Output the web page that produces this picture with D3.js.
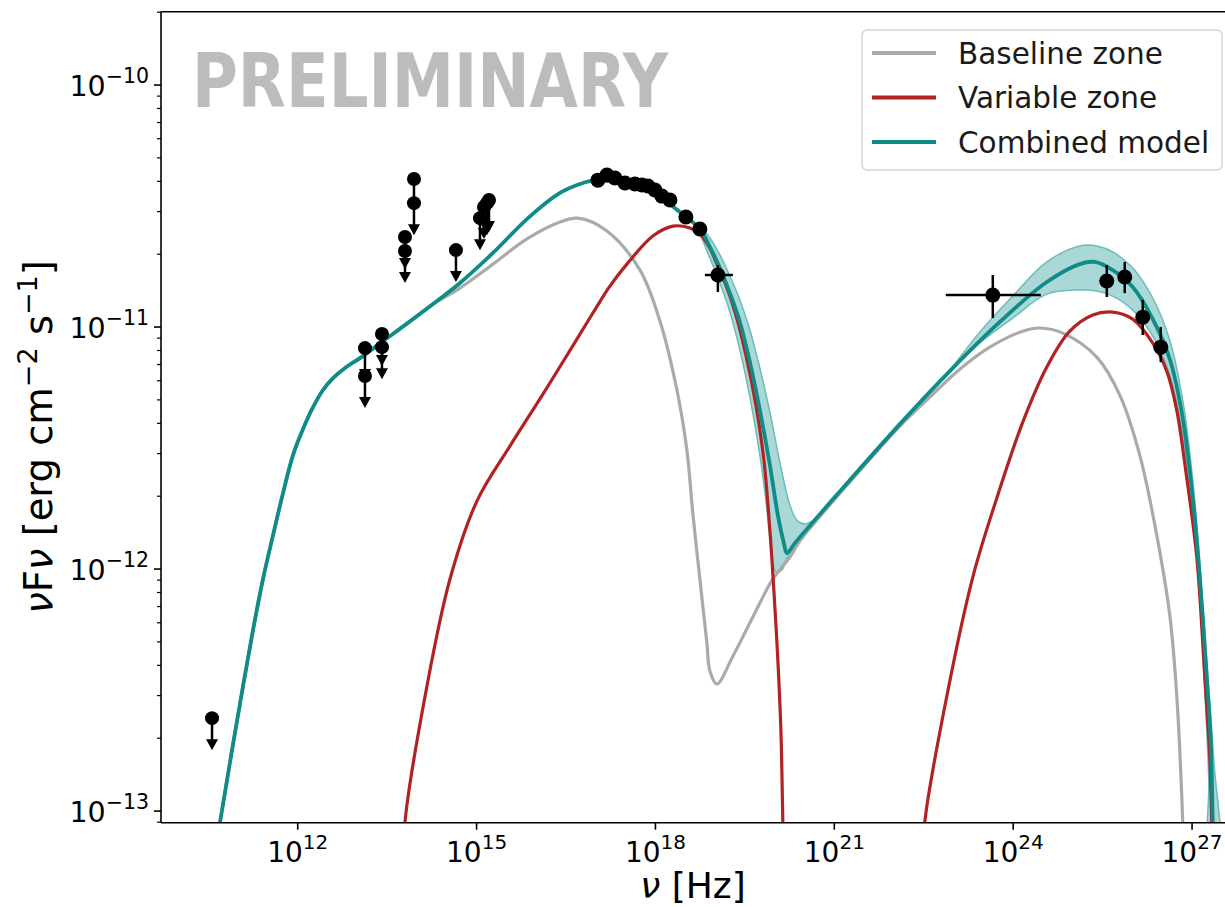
<!DOCTYPE html>
<html>
<head>
<meta charset="utf-8">
<script src="https://cdn.jsdelivr.net/npm/d3@7"></script>
<style>
body { margin: 0; background: #fff; }
text { font-family: "DejaVu Sans", sans-serif; }
</style>
</head>
<body>
<svg width="1225" height="907"></svg>
<script>
// all values as [log10(nu / Hz), log10(nuFnu / erg cm^-2 s^-1)]
var combinedModel = [[10.613,-13.161],[10.697,-13.046],[10.898,-12.748],[11.083,-12.483],[11.250,-12.252],[11.418,-12.041],[11.586,-11.860],[11.754,-11.686],[11.921,-11.529],[12.089,-11.421],[12.257,-11.331],[12.424,-11.260],[12.592,-11.211],[12.793,-11.169],[13.095,-11.120],[13.430,-11.058],[13.799,-10.992],[14.269,-10.905],[14.721,-10.818],[15.275,-10.694],[15.845,-10.554],[16.398,-10.446],[16.733,-10.409],[16.985,-10.393],[17.236,-10.397],[17.572,-10.409],[18.075,-10.463],[18.410,-10.525],[18.745,-10.595],[18.913,-10.669],[19.081,-10.756],[19.248,-10.860],[19.416,-10.979],[19.584,-11.145],[19.751,-11.343],[19.919,-11.570],[20.053,-11.777],[20.154,-11.893],[20.204,-11.934],[20.338,-11.893],[20.422,-11.868],[21.261,-11.632],[22.099,-11.401],[22.937,-11.182],[23.776,-10.979],[24.564,-10.814],[25.117,-10.740],[25.368,-10.731],[25.670,-10.765],[26.005,-10.835],[26.341,-10.967],[26.626,-11.132],[26.844,-11.376],[27.012,-11.707],[27.129,-12.033],[27.246,-12.442],[27.313,-12.707],[27.347,-13.046],[27.364,-13.244]];

var baselineZone = [[10.613,-13.161],[10.697,-13.046],[10.898,-12.748],[11.083,-12.483],[11.250,-12.252],[11.418,-12.041],[11.586,-11.860],[11.754,-11.686],[11.921,-11.529],[12.089,-11.421],[12.257,-11.331],[12.424,-11.260],[12.592,-11.211],[12.793,-11.169],[13.095,-11.120],[13.430,-11.058],[13.799,-10.992],[14.269,-10.905],[14.721,-10.839],[15.275,-10.740],[15.845,-10.636],[16.398,-10.566],[16.700,-10.550],[17.186,-10.603],[17.739,-10.764],[18.075,-10.975],[18.360,-11.260],[18.527,-11.508],[18.628,-11.773],[18.745,-12.041],[18.863,-12.306],[18.913,-12.421],[19.030,-12.475],[19.299,-12.360],[19.634,-12.198],[19.969,-12.041],[20.255,-11.950],[20.422,-11.884],[21.261,-11.640],[22.099,-11.409],[22.602,-11.289],[23.105,-11.174],[23.608,-11.083],[24.161,-11.017],[24.446,-11.004],[24.832,-11.025],[25.402,-11.124],[25.788,-11.281],[26.123,-11.529],[26.408,-11.860],[26.626,-12.190],[26.743,-12.521],[26.844,-13.046],[26.861,-13.203]];

var variableZoneSync = [[13.782,-13.203],[13.799,-13.046],[14.168,-12.483],[14.554,-12.041],[15.006,-11.719],[15.560,-11.492],[16.113,-11.277],[16.683,-11.050],[16.951,-10.942],[17.236,-10.831],[17.521,-10.740],[17.957,-10.624],[18.293,-10.583],[18.578,-10.591],[18.745,-10.616],[18.913,-10.674],[19.014,-10.731],[19.181,-10.826],[19.349,-10.950],[19.517,-11.116],[19.684,-11.322],[19.819,-11.550],[19.919,-11.839],[19.986,-12.087],[20.053,-12.376],[20.104,-12.665],[20.137,-13.046],[20.154,-13.203]];

var variableZoneIC = [[22.501,-13.203],[22.518,-13.046],[22.887,-12.525],[23.323,-12.033],[23.725,-11.707],[24.161,-11.393],[24.564,-11.165],[24.949,-11.017],[25.335,-10.950],[25.670,-10.938],[26.005,-10.967],[26.341,-11.066],[26.576,-11.182],[26.743,-11.343],[26.911,-11.624],[27.079,-11.950],[27.213,-12.442],[27.296,-12.773],[27.330,-13.046],[27.347,-13.203]];

// uncertainty band of the combined model
var bandXrayUpper = [[18.745,-10.583],[18.913,-10.632],[19.081,-10.702],[19.248,-10.789],[19.416,-10.888],[19.584,-11.012],[19.751,-11.169],[19.919,-11.351],[20.087,-11.558],[20.255,-11.736],[20.372,-11.798],[20.506,-11.814],[20.623,-11.802]];
var bandXrayLower = [[18.745,-10.612],[18.913,-10.715],[19.081,-10.818],[19.248,-10.938],[19.416,-11.095],[19.584,-11.289],[19.751,-11.529],[19.852,-11.715],[19.936,-11.901],[20.020,-12.012],[20.120,-12.004],[20.204,-11.955],[20.338,-11.905],[20.506,-11.843],[20.623,-11.802]];
var bandGammaUpper = [[22.937,-11.180],[23.440,-11.021],[23.993,-10.872],[24.564,-10.731],[25.117,-10.665],[25.402,-10.665],[25.670,-10.690],[26.005,-10.756],[26.341,-10.880],[26.626,-11.054],[26.844,-11.302],[27.012,-11.632],[27.129,-11.963],[27.246,-12.376],[27.364,-12.789],[27.448,-13.203]];
var bandGammaLower = [[22.937,-11.184],[23.440,-11.066],[23.993,-10.963],[24.564,-10.864],[25.117,-10.847],[25.402,-10.851],[25.670,-10.872],[26.005,-10.930],[26.341,-11.037],[26.626,-11.198],[26.844,-11.446],[27.012,-11.777],[27.129,-12.107],[27.213,-12.500],[27.280,-12.872],[27.296,-13.203]];

// data
var upperLimits = [[10.563,-12.616],[13.128,-11.087],[13.128,-11.202],[13.413,-11.029],[13.413,-11.083],[13.799,-10.628],[13.799,-10.686],[13.950,-10.388],[13.950,-10.488],[14.654,-10.682],[15.057,-10.550],[15.124,-10.504],[15.174,-10.488],[15.208,-10.475]];
var xrayPoints = [[17.035,-10.393],[17.186,-10.372],[17.320,-10.384],[17.488,-10.405],[17.656,-10.409],[17.773,-10.413],[17.874,-10.417],[17.991,-10.434],[18.108,-10.459],[18.243,-10.475],[18.511,-10.545],[18.745,-10.595]];
// [nu, F, nu low, nu high, F low, F high]
var errorPoints = [[19.047,-10.785,18.829,19.299,-10.855,-10.744],[23.658,-10.868,22.870,24.463,-10.963,-10.785],[25.570,-10.810,25.45,25.69,-10.876,-10.744],[25.871,-10.793,25.77,25.97,-10.860,-10.731],[26.173,-10.959,26.09,26.26,-11.033,-10.888],[26.475,-11.083,26.40,26.55,-11.145,-11.000]];

var xTickExp = [12, 15, 18, 21, 24, 27];
var yTickExp = [-13, -12, -11, -10];
var legendLabels = ["Baseline zone", "Variable zone", "Combined model"];

var teal = "#0f8b88", red = "#b22222", grey = "#aaaaaa";

var svg = d3.select("svg");
svg.append("rect").attr("width", 1225).attr("height", 907).attr("fill", "#fff");

// plot box (window.top is read only, so no "top" here)
var pLeft = 161, pTop = 11.7, pBottom = 822.7, pRight = 1232;
var x = d3.scaleLog().domain([Math.pow(10, 9.707), Math.pow(10, 27.67)]).range([pLeft, pRight]);
var y = d3.scaleLog().domain([Math.pow(10, -13.048), Math.pow(10, -9.697)]).range([pBottom, pTop]);

var px = function(d) { return x(Math.pow(10, d[0])); };
var py = function(d) { return y(Math.pow(10, d[1])); };

svg.append("clipPath").attr("id", "plot")
  .append("rect").attr("x", pLeft).attr("y", pTop).attr("width", pRight - pLeft).attr("height", pBottom - pTop);

// watermark
svg.append("text")
  .attr("x", 192).attr("y", 107)
  .attr("font-size", "74px").attr("font-weight", "bold")
  .attr("textLength", 476).attr("lengthAdjust", "spacingAndGlyphs")
  .attr("fill", "#bcbcbc")
  .text("PRELIMINARY");

var g = svg.append("g").attr("clip-path", "url(#plot)");
var line = d3.line().x(px).y(py).curve(d3.curveCatmullRom.alpha(0.5));

// bands
[[bandXrayUpper, bandXrayLower], [bandGammaUpper, bandGammaLower]].forEach(function(b) {
  g.append("path")
    .attr("d", line(b[0].concat(b[1].slice().reverse())) + "Z")
    .attr("fill", "#8ccbc9").attr("fill-opacity", 0.75)
    .attr("stroke", "#6dbcba").attr("stroke-width", 1.5);
});

g.append("path").attr("d", line(baselineZone)).attr("fill", "none").attr("stroke", grey).attr("stroke-width", 3.2);
g.append("path").attr("d", line(variableZoneSync)).attr("fill", "none").attr("stroke", red).attr("stroke-width", 3.2);
g.append("path").attr("d", line(variableZoneIC)).attr("fill", "none").attr("stroke", red).attr("stroke-width", 3.2);
g.append("path").attr("d", line(combinedModel)).attr("fill", "none").attr("stroke", teal).attr("stroke-width", 3.8);

// upper limits: dot, line and arrow head
var ul = g.selectAll(".ul").data(upperLimits).enter().append("g").attr("class", "ul");
ul.append("line")
  .attr("x1", px).attr("x2", px)
  .attr("y1", py).attr("y2", function(d) { return py(d) + 22; })
  .attr("stroke", "#000").attr("stroke-width", 2.5);
ul.append("path")
  .attr("d", function(d) {
    var cx = px(d), ty = py(d) + 32;
    return "M" + (cx - 6) + "," + (ty - 11) + "L" + (cx + 6) + "," + (ty - 11) + "L" + cx + "," + ty + "Z";
  })
  .attr("fill", "#000");
ul.append("circle").attr("cx", px).attr("cy", py).attr("r", 7).attr("fill", "#000");

// points with error bars
var ep = g.selectAll(".ep").data(errorPoints).enter().append("g").attr("class", "ep");
ep.append("line")
  .attr("x1", function(d) { return x(Math.pow(10, d[2])); })
  .attr("x2", function(d) { return x(Math.pow(10, d[3])); })
  .attr("y1", py).attr("y2", py)
  .attr("stroke", "#000").attr("stroke-width", 2.5);
ep.append("line")
  .attr("x1", px).attr("x2", px)
  .attr("y1", function(d) { return y(Math.pow(10, d[4])); })
  .attr("y2", function(d) { return y(Math.pow(10, d[5])); })
  .attr("stroke", "#000").attr("stroke-width", 2.5);
ep.append("circle").attr("cx", px).attr("cy", py).attr("r", 7.5).attr("fill", "#000");

g.selectAll(".xr").data(xrayPoints).enter().append("circle")
  .attr("class", "xr").attr("cx", px).attr("cy", py).attr("r", 7.5).attr("fill", "#000");

// spines
var axes = svg.append("g").attr("stroke", "#000").attr("stroke-width", 1.6);
axes.append("line").attr("x1", pLeft).attr("x2", pLeft).attr("y1", pTop).attr("y2", pBottom);
axes.append("line").attr("x1", pLeft).attr("x2", 1225).attr("y1", pTop).attr("y2", pTop);
axes.append("line").attr("x1", pLeft).attr("x2", 1225).attr("y1", pBottom).attr("y2", pBottom);

// x ticks
xTickExp.forEach(function(e) {
  var tx = x(Math.pow(10, e));
  axes.append("line").attr("x1", tx).attr("x2", tx).attr("y1", pBottom).attr("y2", pBottom + 7);
  var t = svg.append("text").attr("x", tx).attr("y", pBottom + 39)
    .attr("text-anchor", "middle").attr("font-size", "28px").attr("fill", "#000");
  t.append("tspan").text("10");
  t.append("tspan").attr("dy", -13).attr("font-size", "20px").text(e);
});

// y ticks, major and minor
yTickExp.forEach(function(e) {
  var ty = y(Math.pow(10, e));
  axes.append("line").attr("x1", pLeft - 7).attr("x2", pLeft).attr("y1", ty).attr("y2", ty);
  var t = svg.append("text").attr("x", 149).attr("y", ty + 11)
    .attr("text-anchor", "end").attr("font-size", "28.5px").attr("fill", "#000");
  t.append("tspan").text("10");
  t.append("tspan").attr("dy", -13).attr("font-size", "20.5px").text("\u2212" + (-e));
});
for (var e = -14; e <= -10; e++) {
  for (var k = 2; k <= 9; k++) {
    var v = k * Math.pow(10, e);
    if (v < y.domain()[0] || v > y.domain()[1]) continue;
    axes.append("line").attr("x1", pLeft - 4).attr("x2", pLeft).attr("y1", y(v)).attr("y2", y(v)).attr("stroke-width", 1.2);
  }
}

// axis labels
var xl = svg.append("text").attr("x", 693).attr("y", 898).attr("text-anchor", "middle").attr("font-size", "36px");
xl.append("tspan").attr("font-style", "italic").text("\u03bd");
xl.append("tspan").text(" [Hz]");

var yl = svg.append("text").attr("transform", "translate(52,437) rotate(-90)")
  .attr("text-anchor", "middle").attr("font-size", "38.5px");
yl.append("tspan").attr("font-style", "italic").text("\u03bd");
yl.append("tspan").text("F");
yl.append("tspan").attr("font-style", "italic").text("\u03bd");
yl.append("tspan").text(" [erg cm");
yl.append("tspan").attr("dy", -15).attr("font-size", "27px").text("\u22122");
yl.append("tspan").attr("dy", 15).text(" s");
yl.append("tspan").attr("dy", -15).attr("font-size", "27px").text("\u22121");
yl.append("tspan").attr("dy", 15).text("]");

// legend
var leg = svg.append("g");
leg.append("rect").attr("x", 862).attr("y", 30).attr("width", 360).attr("height", 140)
  .attr("rx", 5).attr("fill", "#fff").attr("fill-opacity", 0.85)
  .attr("stroke", "#d5d5d5").attr("stroke-width", 1.5);
var legColors = [grey, red, teal];
legendLabels.forEach(function(lbl, i) {
  var ly = 53 + i * 44.5;
  leg.append("line").attr("x1", 872).attr("x2", 936).attr("y1", ly).attr("y2", ly)
    .attr("stroke", legColors[i]).attr("stroke-width", 3.8);
  leg.append("text").attr("x", 958).attr("y", ly + 10.5).attr("font-size", "29.5px").attr("fill", "#1a1a1a").text(lbl);
});
</script>
</body>
</html>
